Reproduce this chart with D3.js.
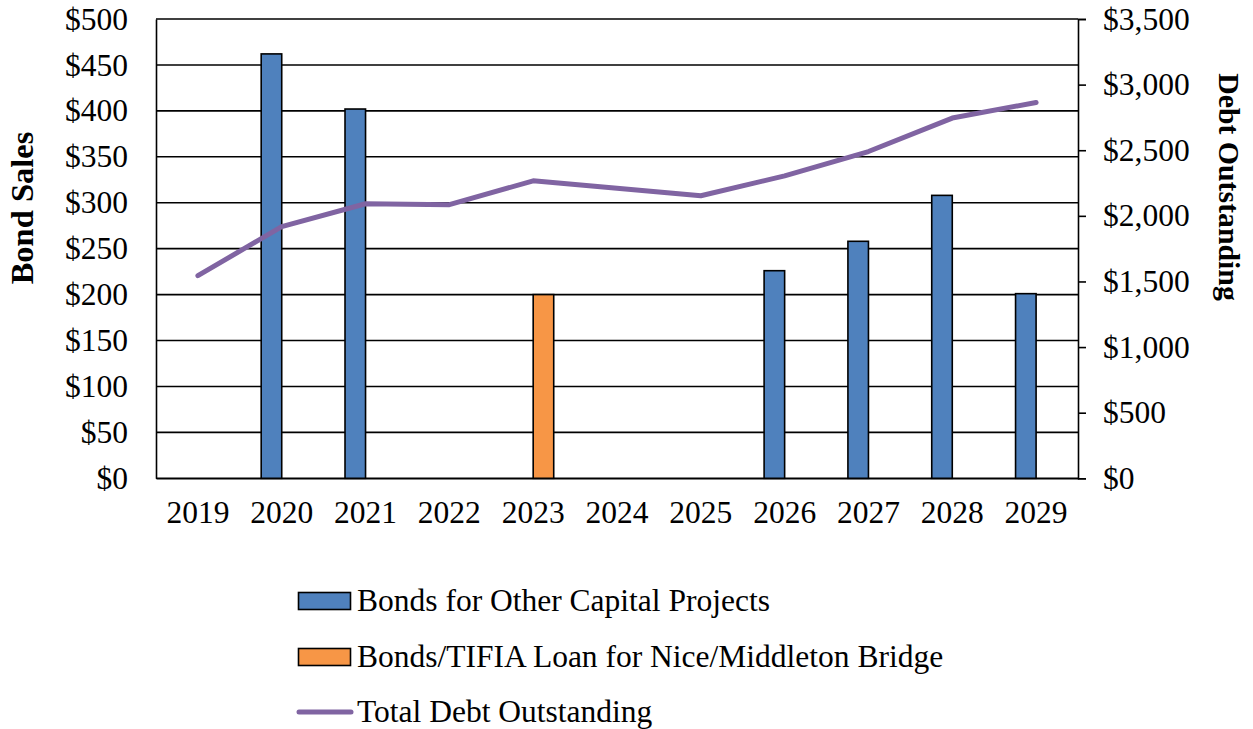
<!DOCTYPE html>
<html><head><meta charset="utf-8">
<script src="https://cdn.jsdelivr.net/npm/d3@7"></script>
<style>
html,body{margin:0;padding:0;background:#fff;}
svg{display:block;}
text{font-family:"Liberation Serif","Times New Roman",serif;fill:#000;}
</style></head>
<body>
<svg id="chart" width="1253" height="729"></svg>
<script>
const years = ["2019","2020","2021","2022","2023","2024","2025","2026","2027","2028","2029"];
const otherBonds = [0, 462, 402, 0, 0, 0, 0, 226, 258, 308, 201];
const bridgeBonds = [0, 0, 0, 0, 200, 0, 0, 0, 0, 0, 0];
const debtOutstanding = [1544, 1918, 2092, 2085, 2267, 2210, 2153, 2305, 2490, 2745, 2864];
const leftTicks = [0,50,100,150,200,250,300,350,400,450,500];
const rightTicks = [0,500,1000,1500,2000,2500,3000,3500];
const seriesNames = ["Bonds for Other Capital Projects","Bonds/TIFIA Loan for Nice/Middleton Bridge","Total Debt Outstanding"];
const colors = ["#4F81BD","#F79646","#8064A2"];

const svg = d3.select("#chart");
const L = 156, R = 1078, T = 19, B = 478.3;
const fs = 31.5;

const x = d3.scaleBand().domain(years).range([L, R]).padding(0);
const bw = x.bandwidth();
const barW = bw * 0.245;
const x1 = d3.scaleBand().domain(["other","bridge"]).range([bw/2 - barW, bw/2 + barW]).padding(0);
const yL = d3.scaleLinear().domain([0, 500]).range([B, T]);
const yR = d3.scaleLinear().domain([0, 3500]).range([B, T]);

// gridlines
svg.append("g").selectAll("line").data(leftTicks).join("line")
  .attr("x1", L).attr("x2", R)
  .attr("y1", d => yL(d)).attr("y2", d => yL(d))
  .attr("stroke", "#000").attr("stroke-width", 1.6);

// left axis
const gL = svg.append("g").attr("transform", `translate(${L},0)`)
  .call(d3.axisLeft(yL).tickValues(leftTicks).tickSize(0).tickPadding(28).tickFormat(d => "$" + d));
gL.select(".domain").attr("stroke", "#000").attr("stroke-width", 1.6);
gL.selectAll("text").style("font-size", fs + "px").style("font-family", '"Liberation Serif", serif');

// right axis
const gR = svg.append("g").attr("transform", `translate(${R},0)`)
  .call(d3.axisRight(yR).tickValues(rightTicks).tickSize(8).tickPadding(17).tickFormat(d => "$" + d3.format(",")(d)));
gR.select(".domain").attr("stroke", "#000").attr("stroke-width", 1.6);
gR.selectAll("line").attr("stroke", "#000").attr("stroke-width", 1.6);
gR.selectAll("text").style("font-size", fs + "px").style("font-family", '"Liberation Serif", serif');

// bottom axis
const gB = svg.append("g").attr("transform", `translate(0,${B})`)
  .call(d3.axisBottom(x).tickSize(0).tickPadding(22));
gB.select(".domain").attr("stroke", "#000").attr("stroke-width", 1.6);
gB.selectAll("text").style("font-size", fs + "px").style("font-family", '"Liberation Serif", serif');

// bars
const barData = [];
years.forEach((yr, i) => {
  if (otherBonds[i] > 0) barData.push({yr, key: "other", v: otherBonds[i], c: colors[0]});
  if (bridgeBonds[i] > 0) barData.push({yr, key: "bridge", v: bridgeBonds[i], c: colors[1]});
});
svg.append("g").selectAll("rect").data(barData).join("rect")
  .attr("x", d => x(d.yr) + x1(d.key))
  .attr("width", x1.bandwidth())
  .attr("y", d => yL(d.v))
  .attr("height", d => B - yL(d.v))
  .attr("fill", d => d.c)
  .attr("stroke", "#000").attr("stroke-width", 1.6);

// line
const line = d3.line().x((d, i) => x(years[i]) + bw/2).y(d => yR(d));
svg.append("path").datum(debtOutstanding)
  .attr("d", line).attr("fill", "none")
  .attr("stroke", colors[2]).attr("stroke-width", 5)
  .attr("stroke-linecap", "round").attr("stroke-linejoin", "round");

// axis titles
svg.append("text")
  .attr("transform", "translate(33,208) rotate(-90)")
  .attr("text-anchor", "middle")
  .style("font-size", "32.5px").style("font-weight", "bold")
  .text("Bond Sales");
svg.append("text")
  .attr("transform", "translate(1219,187) rotate(90)")
  .attr("text-anchor", "middle")
  .style("font-size", "29.8px").style("font-weight", "bold")
  .text("Debt Outstanding");

// legend
const lg = svg.append("g");
const ly = [601, 657, 712];
[0, 1].forEach(i => {
  lg.append("rect").attr("x", 298.5).attr("y", ly[i] - 8.5).attr("width", 52).attr("height", 17)
    .attr("fill", colors[i]).attr("stroke", "#000").attr("stroke-width", 1.6);
});
lg.append("line").attr("x1", 299).attr("x2", 351).attr("y1", ly[2]).attr("y2", ly[2])
  .attr("stroke", colors[2]).attr("stroke-width", 5).attr("stroke-linecap", "round");
seriesNames.forEach((n, i) => {
  lg.append("text").attr("x", 357).attr("y", ly[i]).attr("dy", "0.33em")
    .style("font-size", fs + "px").text(n);
});
</script>
</body></html>
